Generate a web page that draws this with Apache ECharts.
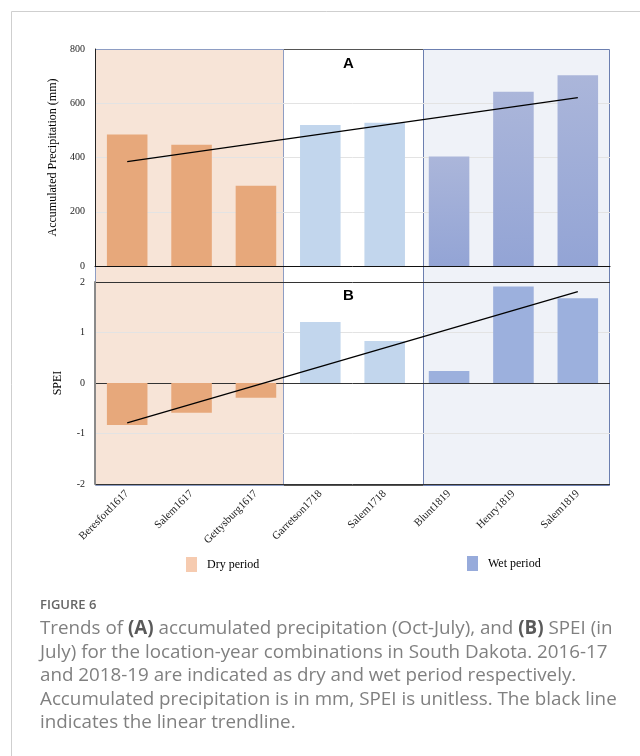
<!DOCTYPE html>
<html><head><meta charset="utf-8">
<script src="https://cdn.jsdelivr.net/npm/echarts@6/dist/echarts.min.js"></script>
<style>html,body{margin:0;padding:0;background:#fff}#c{width:640px;height:756px}</style>
</head><body><div id="c"></div>
<script>
// ---- data ----
const categories = ['Beresford1617','Salem1617','Gettysburg1617','Garretson1718','Salem1718','Blunt1819','Henry1819','Salem1819'];
const periods = ['dry','dry','dry','mid','mid','wet','wet','wet'];
const precipitation = [485, 447, 296, 520, 528, 404, 642, 703];
const spei = [-0.83, -0.59, -0.29, 1.21, 0.83, 0.24, 1.91, 1.68];
const precipTrendEnds = [385, 621];   // trendline value at first / last category
const speiTrendEnds = [-0.79, 1.81];
const precipAxis = [0, 800, 200];     // min, max, interval
const speiAxis = [-2, 2, 1];
// shaded period blocks, in category units (0 = left edge, 8 = right edge)
const blockFrom = [2.92, 0, 5.09];
const blockTo   = [5.09, 2.92, 7.99];
const blockKind = [1, 0, 2];          // 0 dry, 1 middle, 2 wet

const serif = 'Liberation Serif';
const blockFill = ['#f7e4d7', '#ffffff', '#eff2f8'];
const blockStroke = ['#8e9dc3', '#555555', '#6c7fb0'];

function split(values, kind) {
  return values.map((v, i) => periods[i] === kind ? v : '-');
}
const wetGrad = new echarts.graphic.LinearGradient(0, 0, 0, 1, [
  {offset: 0, color: '#abb6da'}, {offset: 1, color: '#93a4d5'}]);

function bars(gridIdx, values, wetColor) {
  const common = {type: 'bar', xAxisIndex: gridIdx, yAxisIndex: gridIdx, barGap: '-100%',
    barCategoryGap: '37%', z: 2, silent: true};
  return [
    Object.assign({name: 'Dry period', data: split(values, 'dry'), itemStyle: {color: '#e7a87b'}}, common),
    Object.assign({name: 'Normal', data: split(values, 'mid'), itemStyle: {color: '#c2d6ed'}}, common),
    Object.assign({name: 'Wet period', data: split(values, 'wet'), itemStyle: {color: wetColor}}, common)
  ];
}
function trend(gridIdx, ends) {
  return {type: 'line', xAxisIndex: gridIdx, yAxisIndex: gridIdx, z: 3, silent: true,
    symbol: 'none', lineStyle: {color: '#000', width: 1.3},
    data: [[0, ends[0]], [categories.length - 1, ends[1]]]};
}

const chart = echarts.init(document.getElementById('c'));
chart.setOption({
  animation: false,
  backgroundColor: '#fff',
  graphic: [{type: 'rect', silent: true, shape: {x: 11.5, y: 11.5, width: 700, height: 800},
    style: {fill: 'none', stroke: '#cfcfcf', lineWidth: 1}}],
  title: [
    {text: 'A', left: 343, top: 56, padding: 0,
     textStyle: {fontFamily: 'Liberation Sans', fontWeight: 'bold', fontSize: 15, color: '#000'}},
    {text: 'B', left: 343, top: 288, padding: 0,
     textStyle: {fontFamily: 'Liberation Sans', fontWeight: 'bold', fontSize: 15, color: '#000'}},
    {text: 'FIGURE 6', left: 40, top: 599, padding: 0,
     textStyle: {fontFamily: 'Open Sans', fontWeight: 600, fontSize: 13, color: '#666'}},
    {text: 'Trends of {b|(A)} accumulated precipitation (Oct-July), and {b|(B)} SPEI (in\n' +
           'July) for the location-year combinations in South Dakota. 2016-17\n' +
           'and 2018-19 are indicated as dry and wet period respectively.\n' +
           'Accumulated precipitation is in mm, SPEI is unitless. The black line\n' +
           'indicates the linear trendline.',
     left: 40, top: 617, padding: 0,
     textStyle: {fontFamily: 'Open Sans', fontWeight: 'normal', fontSize: 18.8, color: '#808080', lineHeight: 23.5,
       rich: {b: {fontFamily: 'Open Sans', fontWeight: 'bold', fontSize: 18.8, color: '#5a5a5a', lineHeight: 23.5}}}}
  ],
  legend: [
    {left: 186, top: 557, padding: 0, icon: 'rect', itemWidth: 11, itemHeight: 15, selectedMode: false,
     data: [{name: 'Dry period', itemStyle: {color: '#f6cbb0'}}],
     textStyle: {fontFamily: serif, fontSize: 12, color: '#000', padding: [0, 0, 0, 5]}},
    {left: 467, top: 556, padding: 0, icon: 'rect', itemWidth: 11, itemHeight: 15, selectedMode: false,
     data: [{name: 'Wet period', itemStyle: {color: '#97abdb'}}],
     textStyle: {fontFamily: serif, fontSize: 12, color: '#000', padding: [0, 0, 0, 5]}}
  ],
  grid: [
    {left: 95, top: 49, width: 515, height: 217},
    {left: 95, top: 282, width: 515, height: 202},
    {left: 95, top: 49, width: 515, height: 436}
  ],
  xAxis: [
    {gridIndex: 0, type: 'category', data: categories, z: 1,
     axisLine: {lineStyle: {color: '#111', width: 1}}, axisTick: {show: false}, axisLabel: {show: false}},
    {gridIndex: 1, type: 'category', data: categories, z: 1, position: 'bottom',
     axisLine: {show: false}, axisTick: {show: false},
     axisLabel: {interval: 0, rotate: 45, margin: 8, fontFamily: serif, fontSize: 11, color: '#222'}},
    {gridIndex: 2, type: 'value', min: 0, max: 8, show: false}
  ],
  yAxis: [
    {gridIndex: 0, type: 'value', min: precipAxis[0], max: precipAxis[1], interval: precipAxis[2], z: 1,
     name: 'Accumulated Precipitation (mm)', nameLocation: 'middle', nameGap: 32,
     nameTextStyle: {fontFamily: serif, fontSize: 12, color: '#000'},
     axisLine: {show: true, lineStyle: {color: '#222', width: 1}}, axisTick: {show: false},
     axisLabel: {fontFamily: serif, fontSize: 10, color: '#222', margin: 10},
     splitLine: {lineStyle: {color: ['#e3e3e3', '#e3e3e3', '#e3e3e3', '#e3e3e3', 'rgba(0,0,0,0)']}}},
    {gridIndex: 1, type: 'value', min: speiAxis[0], max: speiAxis[1], interval: speiAxis[2], z: 1,
     name: 'SPEI', nameLocation: 'middle', nameGap: 31,
     nameTextStyle: {fontFamily: serif, fontSize: 12, color: '#000'},
     axisLine: {show: true, lineStyle: {color: '#8a8a8a', width: 2}}, axisTick: {show: false},
     axisLabel: {fontFamily: serif, fontSize: 10, color: '#222', margin: 10},
     splitLine: {lineStyle: {color: ['#333', '#e3e3e3']}}},
    {gridIndex: 2, type: 'value', min: 0, max: 1, show: false}
  ],
  series: [
    {type: 'custom', name: 'blocks', xAxisIndex: 2, yAxisIndex: 2, z: 0, silent: true, clip: false,
     data: blockFrom.map((f, i) => [f, blockTo[i], blockKind[i]]),
     renderItem: function (params, api) {
       const p0 = api.coord([api.value(0), 1]);
       const p1 = api.coord([api.value(1), 0]);
       const k = api.value(2);
       const x0 = Math.round(p0[0]) + 0.5, y0 = Math.round(p0[1]) + 0.5;
       const x1 = Math.round(p1[0]) + 0.5, y1 = Math.round(p1[1]) + 0.5;
       return {type: 'rect', shape: {x: x0, y: y0, width: x1 - x0, height: y1 - y0},
               style: {fill: blockFill[k], stroke: blockStroke[k], lineWidth: 1}};
     }},
    ...bars(0, precipitation, wetGrad),
    trend(0, precipTrendEnds),
    ...bars(1, spei, '#9cb0dd'),
    trend(1, speiTrendEnds)
  ]
});
</script></body></html>
